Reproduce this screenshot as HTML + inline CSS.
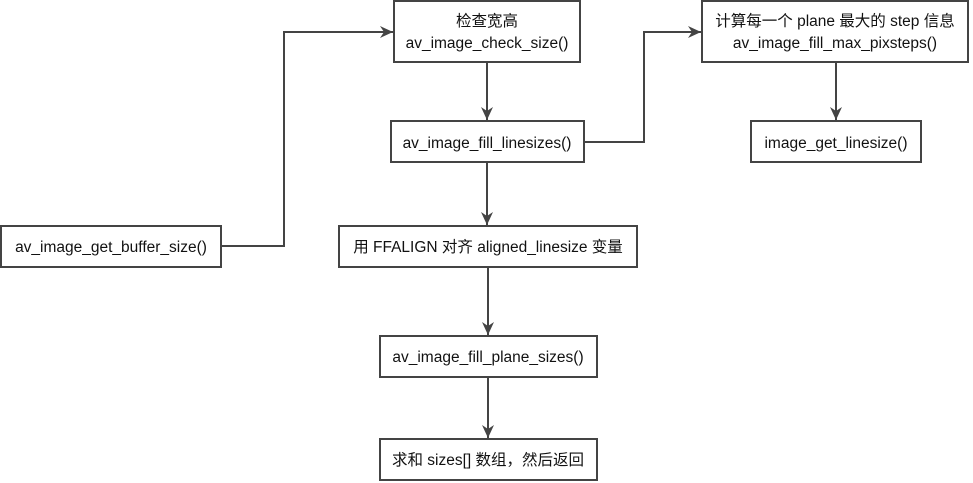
<!DOCTYPE html>
<html><head><meta charset="utf-8"><style>
body{margin:0;background:#fff;}
svg{display:block;}
text{font-family:"Liberation Sans","Noto Sans CJK SC",sans-serif;font-size:15.5px;fill:#111;text-anchor:middle;}
</style></head><body>
<svg width="973" height="483" viewBox="0 0 973 483">
<defs><marker id="a" markerWidth="14" markerHeight="14" refX="13" refY="6" orient="auto" markerUnits="userSpaceOnUse"><path d="M0,0 L13,6 L0,12 L4,6 z" fill="#444"/></marker></defs>
<g fill="#fff" stroke="#444" stroke-width="2">
<rect x="394" y="1" width="186" height="61"/>
<rect x="391" y="121" width="193" height="41"/>
<rect x="702" y="1" width="266" height="61"/>
<rect x="751" y="121" width="170" height="41"/>
<rect x="1" y="226" width="220" height="41"/>
<rect x="339" y="226" width="298" height="41"/>
<rect x="380" y="336" width="217" height="41"/>
<rect x="380" y="439" width="217" height="41"/>
</g>
<g fill="none" stroke="#444" stroke-width="2">
<path d="M221,246 H284 V32 H393" marker-end="url(#a)"/>
<path d="M487,62 V120" marker-end="url(#a)"/>
<path d="M584,142 H644 V32 H701" marker-end="url(#a)"/>
<path d="M836,62 V120" marker-end="url(#a)"/>
<path d="M487,162 V225" marker-end="url(#a)"/>
<path d="M488,267 V335" marker-end="url(#a)"/>
<path d="M488,377 V438" marker-end="url(#a)"/>
</g>
<text x="487" y="26">检查宽高</text>
<text x="487" y="48">av_image_check_size()</text>
<text x="487" y="148">av_image_fill_linesizes()</text>
<text x="835" y="26">计算每一个 plane 最大的 step 信息</text>
<text x="835" y="48">av_image_fill_max_pixsteps()</text>
<text x="836" y="148">image_get_linesize()</text>
<text x="111" y="252">av_image_get_buffer_size()</text>
<text x="488" y="252">用 FFALIGN 对齐 aligned_linesize 变量</text>
<text x="488" y="362">av_image_fill_plane_sizes()</text>
<text x="488" y="465">求和 sizes[] 数组，然后返回</text>
</svg>
</body></html>
